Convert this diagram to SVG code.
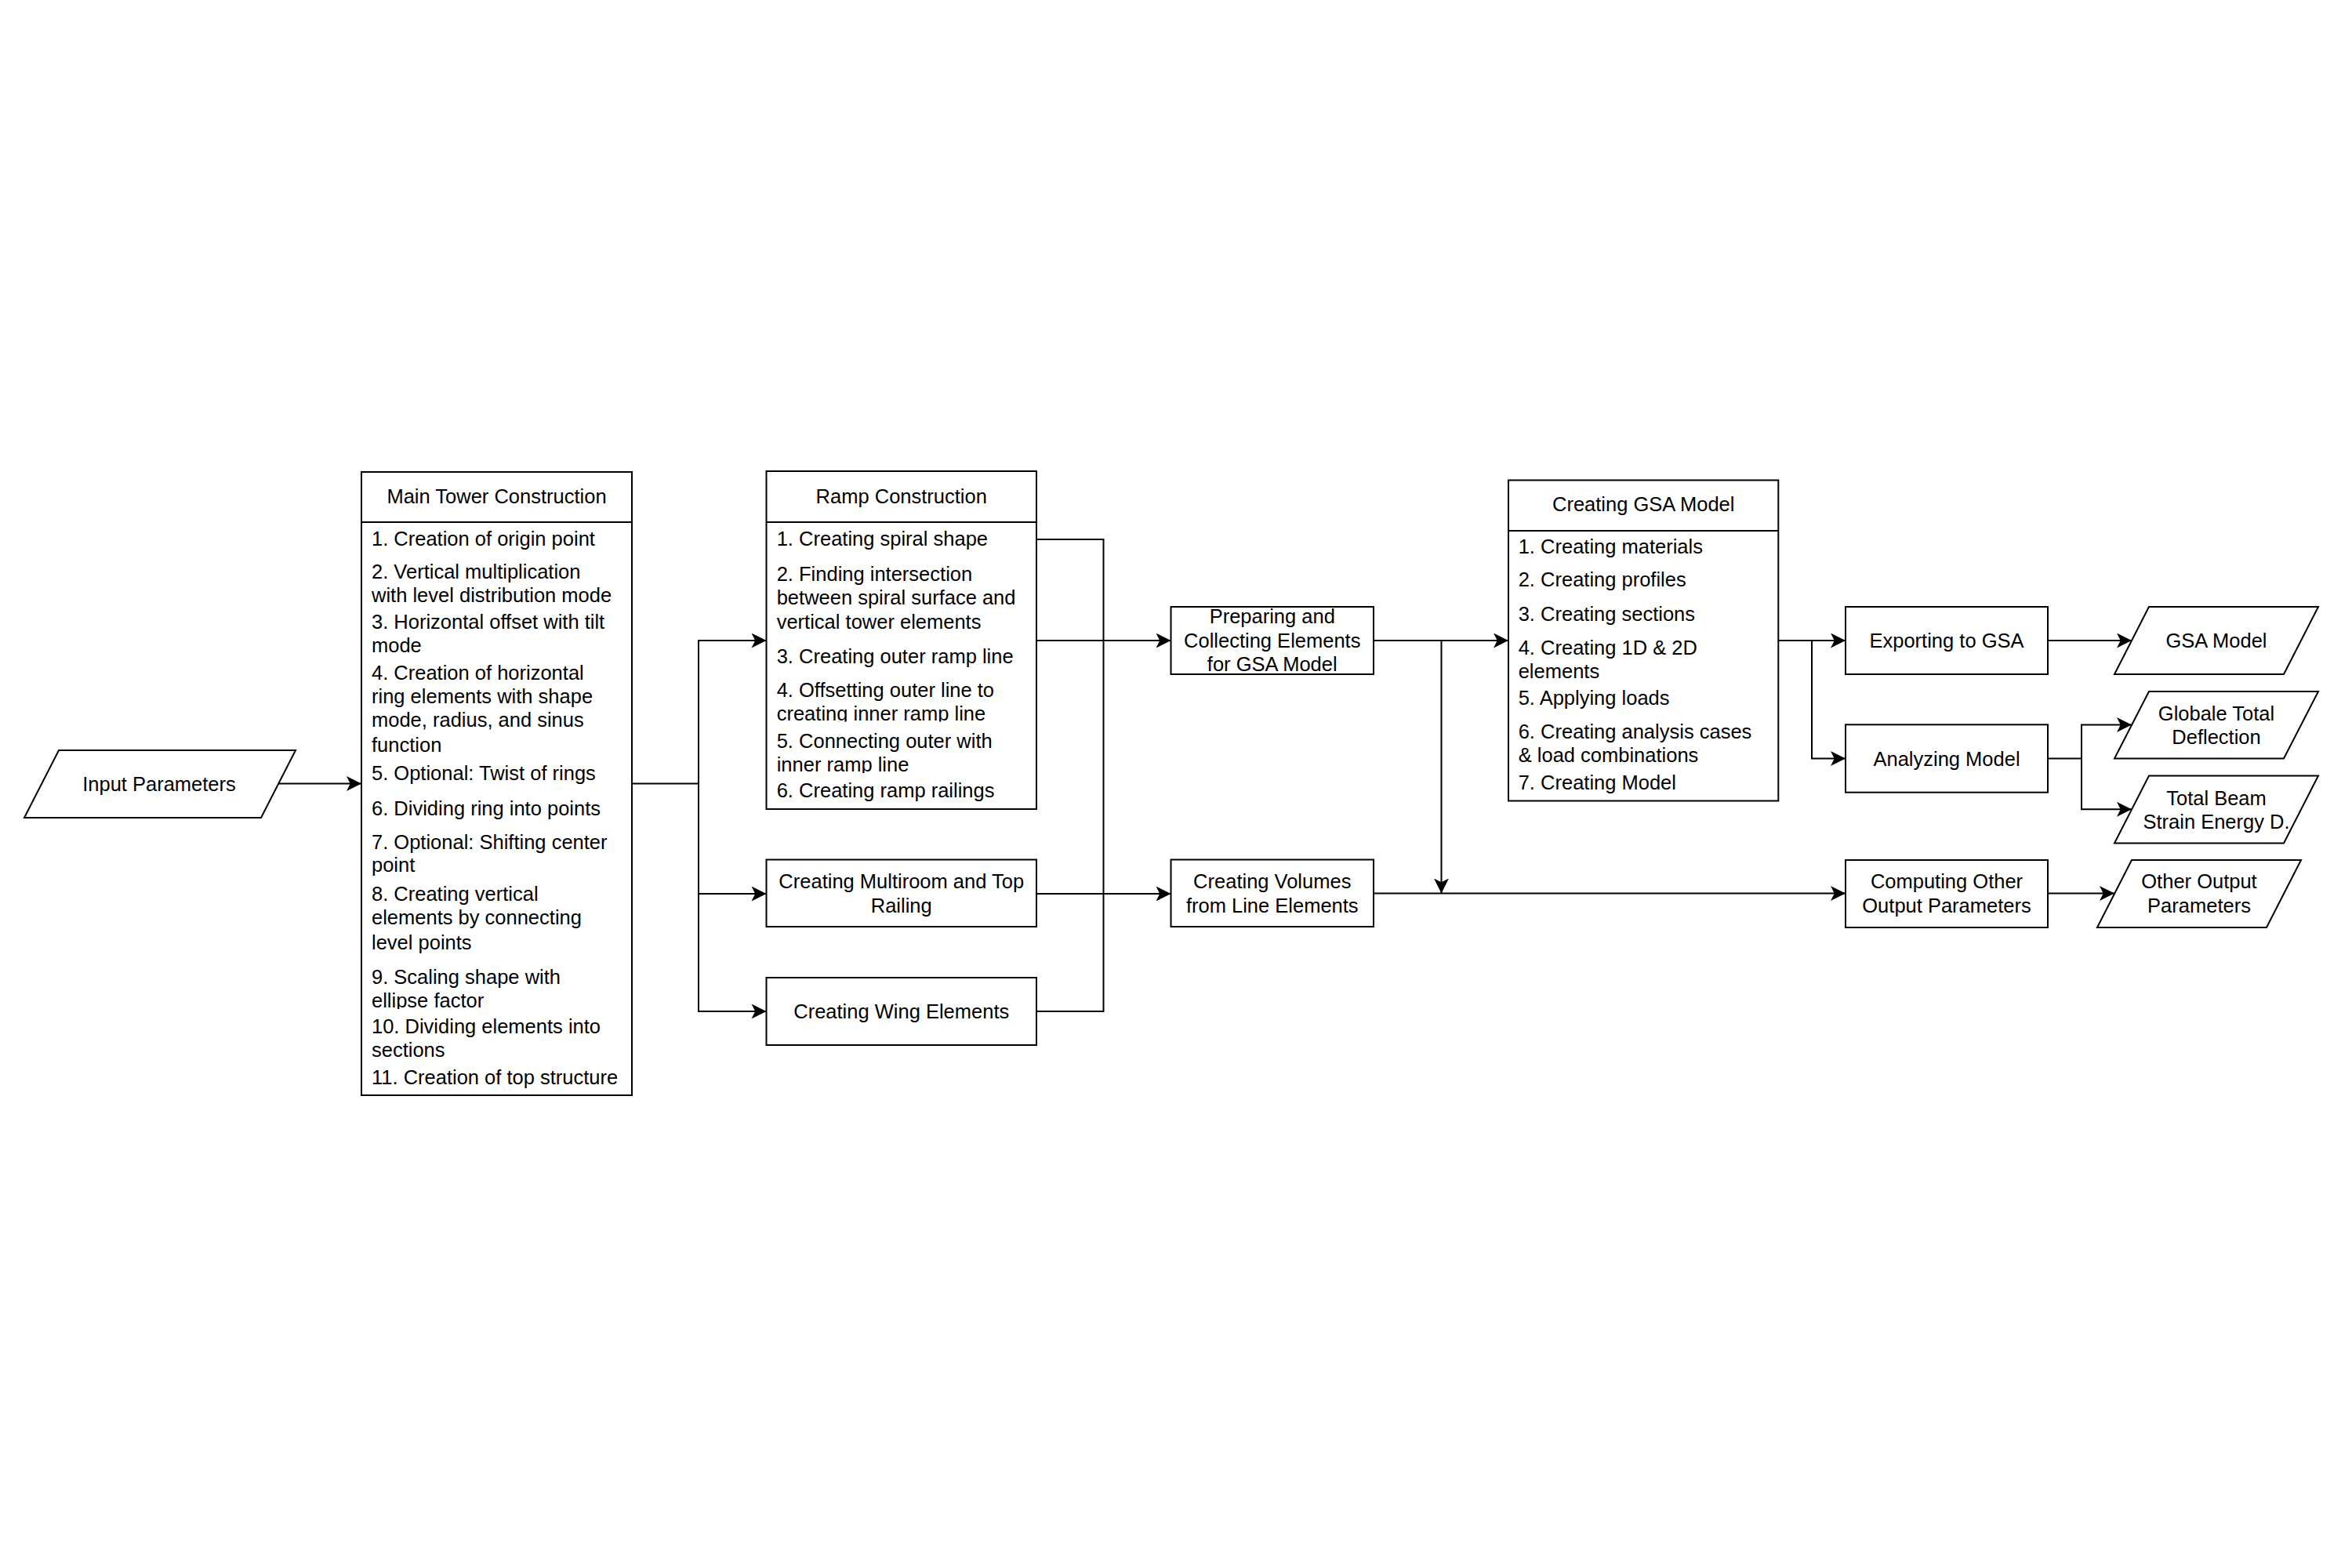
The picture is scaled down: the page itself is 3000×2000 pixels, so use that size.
<svg xmlns="http://www.w3.org/2000/svg" width="3000" height="2000" viewBox="0 0 3000 2000">
<style>
.bg{fill:#ffffff}
.box{fill:#ffffff;stroke:#000000;stroke-width:2}
.ln{fill:none;stroke:#000000;stroke-width:2}
.t{font-family:"Liberation Sans",Arial,Helvetica,sans-serif;font-size:25.5px;fill:#000000}
.c{text-anchor:middle}
.edge{fill:none;stroke:#000000;stroke-width:2}
.arr{marker-end:url(#ah)}
</style>
<defs>
<marker id="ah" markerUnits="userSpaceOnUse" viewBox="0 0 19 19" refX="19" refY="9.5" markerWidth="19" markerHeight="19" orient="auto">
<path d="M19,9.5 L0,0 L4.75,9.5 L0,19 Z" fill="#000000"/>
</marker>
<clipPath id="clipEllipse"><rect x="461" y="1230" width="345" height="57"/></clipPath>
<clipPath id="clipInner1"><rect x="977" y="870" width="345" height="50.5"/></clipPath>
<clipPath id="clipInner2"><rect x="977" y="935" width="345" height="51"/></clipPath>
</defs>
<rect class="bg" x="0" y="0" width="3000" height="2000"/>

<g id="connectors">
<path class="edge arr" d="M354.5,999.5 H461"/>
<path class="edge" d="M806,999.5 H891"/>
<path class="edge arr" d="M891,999.5 V817 H977.5"/>
<path class="edge arr" d="M891,999.5 V1140 H977.5"/>
<path class="edge arr" d="M891,999.5 V1290 H977.5"/>
<path class="edge" d="M1322,688 H1407.5 V1290 H1322"/>
<path class="edge arr" d="M1322,817 H1493.5"/>
<path class="edge arr" d="M1322,1140 H1493.5"/>
<path class="edge arr" d="M1752,817 H1924"/>
<path class="edge arr" d="M1838.5,817 V1139.5"/>
<path class="edge arr" d="M1752,1139.5 H2354"/>
<path class="edge arr" d="M2268,817 H2354"/>
<path class="edge arr" d="M2311,817 V967.5 H2354"/>
<path class="edge arr" d="M2612,817 H2719"/>
<path class="edge arr" d="M2612,967.5 H2655 V924.5 H2719"/>
<path class="edge arr" d="M2655,967.5 V1032.3 H2719"/>
<path class="edge arr" d="M2612,1139.5 H2697"/>
</g>

<g id="input-parameters">
<polygon class="box" points="75,957 377,957 333,1043 31,1043"/>
<text class="t c" x="203" y="1009">Input Parameters</text>
</g>

<g id="main-tower">
<rect class="box" x="461" y="602" width="345" height="795"/>
<line class="ln" x1="461" y1="666" x2="806" y2="666"/>
<text class="t c" x="633.5" y="641.7">Main Tower Construction</text>
<text class="t" x="474" y="695.7">1. Creation of origin point</text>
<text class="t" x="474" y="737.7">2. Vertical multiplication</text>
<text class="t" x="474" y="767.7">with level distribution mode</text>
<text class="t" x="474" y="802.3">3. Horizontal offset with tilt</text>
<text class="t" x="474" y="832.3">mode</text>
<text class="t" x="474" y="866.7">4. Creation of horizontal</text>
<text class="t" x="474" y="896.7">ring elements with shape</text>
<text class="t" x="474" y="926.7">mode, radius, and sinus</text>
<text class="t" x="474" y="959">function</text>
<text class="t" x="474" y="995">5. Optional: Twist of rings</text>
<text class="t" x="474" y="1040">6. Dividing ring into points</text>
<text class="t" x="474" y="1083.3">7. Optional: Shifting center</text>
<text class="t" x="474" y="1111.7">point</text>
<text class="t" x="474" y="1149">8. Creating vertical</text>
<text class="t" x="474" y="1179">elements by connecting</text>
<text class="t" x="474" y="1210.7">level points</text>
<text class="t" x="474" y="1255">9. Scaling shape with</text>
<text class="t" x="474" y="1285" clip-path="url(#clipEllipse)">ellipse factor</text>
<text class="t" x="474" y="1318.3">10. Dividing elements into</text>
<text class="t" x="474" y="1348.3">sections</text>
<text class="t" x="474" y="1383.3">11. Creation of top structure</text>
</g>

<g id="ramp-construction">
<rect class="box" x="977.5" y="601" width="344.5" height="431"/>
<line class="ln" x1="977.5" y1="666" x2="1322" y2="666"/>
<text class="t c" x="1149.75" y="641.7">Ramp Construction</text>
<text class="t" x="990.7" y="695.7">1. Creating spiral shape</text>
<text class="t" x="990.7" y="740.5">2. Finding intersection</text>
<text class="t" x="990.7" y="771">between spiral surface and</text>
<text class="t" x="990.7" y="801.5">vertical tower elements</text>
<text class="t" x="990.7" y="846">3. Creating outer ramp line</text>
<text class="t" x="990.7" y="889">4. Offsetting outer line to</text>
<text class="t" x="990.7" y="919" clip-path="url(#clipInner1)">creating inner ramp line</text>
<text class="t" x="990.7" y="954">5. Connecting outer with</text>
<text class="t" x="990.7" y="984" clip-path="url(#clipInner2)">inner ramp line</text>
<text class="t" x="990.7" y="1017.3">6. Creating ramp railings</text>
</g>

<g id="multiroom">
<rect class="box" x="977.5" y="1096.5" width="344.5" height="85.5"/>
<text class="t c" x="1149.75" y="1132.7">Creating Multiroom and Top</text>
<text class="t c" x="1149.75" y="1163.5">Railing</text>
</g>

<g id="wing-elements">
<rect class="box" x="977.5" y="1247" width="344.5" height="86"/>
<text class="t c" x="1149.75" y="1299">Creating Wing Elements</text>
</g>

<g id="preparing">
<rect class="box" x="1493.5" y="774" width="258.5" height="86"/>
<text class="t c" x="1622.75" y="795">Preparing and</text>
<text class="t c" x="1622.75" y="825.7">Collecting Elements</text>
<text class="t c" x="1622.75" y="856.3">for GSA Model</text>
</g>

<g id="volumes">
<rect class="box" x="1493.5" y="1096.5" width="258.5" height="85.5"/>
<text class="t c" x="1622.75" y="1132.7">Creating Volumes</text>
<text class="t c" x="1622.75" y="1163.5">from Line Elements</text>
</g>

<g id="gsa-model-creation">
<rect class="box" x="1924" y="612.5" width="344.3" height="409"/>
<line class="ln" x1="1924" y1="677" x2="2268.3" y2="677"/>
<text class="t c" x="2096.2" y="652.3">Creating GSA Model</text>
<text class="t" x="1936.7" y="706">1. Creating materials</text>
<text class="t" x="1936.7" y="748.3">2. Creating profiles</text>
<text class="t" x="1936.7" y="791.7">3. Creating sections</text>
<text class="t" x="1936.7" y="835">4. Creating 1D &amp; 2D</text>
<text class="t" x="1936.7" y="865">elements</text>
<text class="t" x="1936.7" y="899.3">5. Applying loads</text>
<text class="t" x="1936.7" y="942.3">6. Creating analysis cases</text>
<text class="t" x="1936.7" y="972.3">&amp; load combinations</text>
<text class="t" x="1936.7" y="1006.7">7. Creating Model</text>
</g>

<g id="exporting">
<rect class="box" x="2354" y="774" width="258" height="86"/>
<text class="t c" x="2483" y="826">Exporting to GSA</text>
</g>

<g id="analyzing">
<rect class="box" x="2354" y="924.3" width="258" height="86.4"/>
<text class="t c" x="2483" y="976.5">Analyzing Model</text>
</g>

<g id="computing">
<rect class="box" x="2354" y="1097" width="258" height="86"/>
<text class="t c" x="2483" y="1133">Computing Other</text>
<text class="t c" x="2483" y="1163.6">Output Parameters</text>
</g>

<g id="gsa-model-output">
<polygon class="box" points="2741,774 2957,774 2913,860 2697,860"/>
<text class="t c" x="2827" y="826">GSA Model</text>
</g>

<g id="globale-deflection">
<polygon class="box" points="2741,882 2957,882 2913,967.5 2697,967.5"/>
<text class="t c" x="2827" y="918.5">Globale Total</text>
<text class="t c" x="2827" y="949.1">Deflection</text>
</g>

<g id="strain-energy">
<polygon class="box" points="2741,989.5 2957,989.5 2913,1075.5 2697,1075.5"/>
<text class="t c" x="2827" y="1026.5">Total Beam</text>
<text class="t c" x="2827" y="1057.1">Strain Energy D.</text>
</g>

<g id="other-output">
<polygon class="box" points="2719,1097 2935,1097 2891,1183 2675,1183"/>
<text class="t c" x="2805" y="1133">Other Output</text>
<text class="t c" x="2805" y="1163.6">Parameters</text>
</g>
</svg>
